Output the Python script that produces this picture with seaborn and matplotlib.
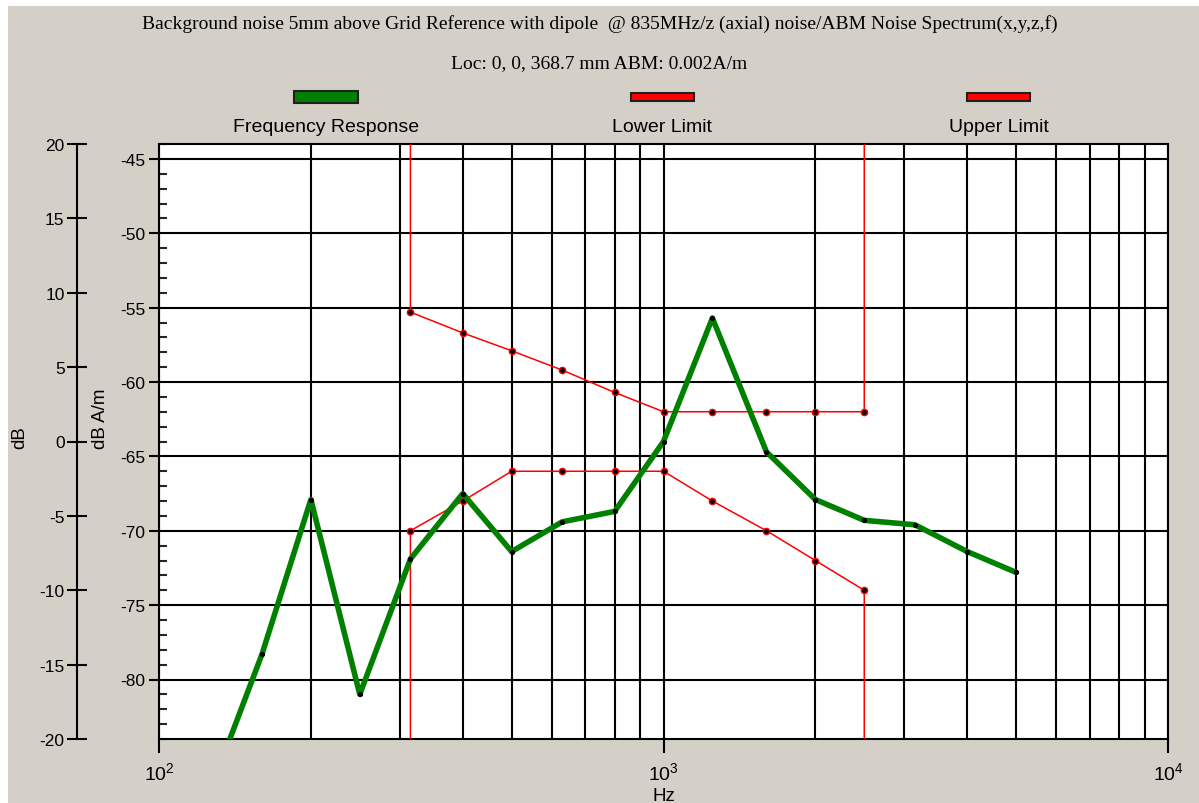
import seaborn as sns
import pandas as pd
import matplotlib.pyplot as plt
from matplotlib.patches import Rectangle
from matplotlib.ticker import MultipleLocator

# data (dB A/m)
resp_freq = [125, 160, 200, 250, 315, 400, 500, 630, 800, 1000, 1250, 1600,
             2000, 2500, 3150, 4000, 5000]
resp_level = [-87.9, -78.3, -67.9, -81.0, -71.9, -67.5, -71.4, -69.4, -68.7,
              -64.0, -55.7, -64.7, -67.9, -69.3, -69.6, -71.4, -72.8]

# limit curves, with the vertical edges running off the chart
lower_freq = [315, 315, 400, 500, 630, 800, 1000, 1250, 1600, 2000, 2500, 2500]
lower_level = [-100, -70.0, -68.0, -66.0, -66.0, -66.0, -66.0, -68.0, -70.0,
               -72.0, -74.0, -100]
upper_freq = [315, 315, 400, 500, 630, 800, 1000, 1250, 1600, 2000, 2500, 2500]
upper_level = [-30, -55.3, -56.7, -57.9, -59.2, -60.7, -62.0, -62.0, -62.0,
               -62.0, -62.0, -30]

db_offset = 64  # dB = dB A/m + 64

title1 = "Background noise 5mm above Grid Reference with dipole  @ 835MHz/z (axial) noise/ABM Noise Spectrum(x,y,z,f)"
title2 = "Loc: 0, 0, 368.7 mm ABM: 0.002A/m"
legend_names = ["Frequency Response", "Lower Limit", "Upper Limit"]

df_resp = pd.DataFrame({"freq": resp_freq, "level": resp_level})
df_lower = pd.DataFrame({"freq": lower_freq, "level": lower_level})
df_upper = pd.DataFrame({"freq": upper_freq, "level": upper_level})

sns.set_style("ticks")
plt.rcParams["font.family"] = ["Liberation Sans", "DejaVu Sans"]
plt.rcParams["mathtext.default"] = "regular"
plt.rcParams["axes.unicode_minus"] = False
plt.rcParams["text.color"] = "black"
plt.rcParams["axes.labelcolor"] = "black"

gray = "#D4D0C8"
fig = plt.figure(figsize=(11.99, 8.04), dpi=100, facecolor="white")
fig.add_artist(Rectangle((8 / 1199, 0), 1, 1 - 7 / 804, transform=fig.transFigure,
                         facecolor=gray, edgecolor="none", zorder=-10))

ax = fig.add_axes([159 / 1199, 64 / 804, 1009 / 1199, 595 / 804])
ax.set_facecolor("white")

for d in (df_lower, df_upper):
    sns.lineplot(data=d, x="freq", y="level", ax=ax, sort=False, estimator=None,
                 color="red", linewidth=1.1, marker="o", markersize=4.5,
                 markerfacecolor="black", markeredgecolor="red", markeredgewidth=1,
                 zorder=3)
sns.lineplot(data=df_resp, x="freq", y="level", ax=ax, sort=False, estimator=None,
             color="#008000", linewidth=4, marker="o", markersize=3,
             markerfacecolor="black", markeredgecolor="black", zorder=4)

ax.set_xscale("log")
ax.set_xlim(100, 10000)
ax.set_ylim(-84, -44)
ax.yaxis.set_major_locator(MultipleLocator(5))
ax.yaxis.set_minor_locator(MultipleLocator(1))
ax.grid(which="both", axis="x", color="black", linewidth=1.5)
ax.grid(which="major", axis="y", color="black", linewidth=1.5)
ax.set_axisbelow(True)
for s in ax.spines.values():
    s.set_color("black")
    s.set_linewidth(1.5)
ax.tick_params(axis="y", which="major", direction="out", length=7, width=1.5,
               labelsize=12.5, pad=3, colors="black")
ax.tick_params(axis="y", which="minor", direction="in", length=5.5, width=1.5)
ax.tick_params(axis="x", which="major", direction="out", length=10, width=1.5,
               labelsize=14, pad=6, colors="black")
ax.tick_params(axis="x", which="minor", length=0)
ax.set_xlabel("Hz", fontsize=13.5, labelpad=3)
ax.set_ylabel("dB A/m", fontsize=13.5)
ax.yaxis.set_label_coords(-0.050, 0.54)

# outer dB axis
ax_db = ax.twinx()
ax_db.set_ylim(-84 + db_offset, -44 + db_offset)
ax_db.yaxis.set_major_locator(MultipleLocator(5))
for k in ("right", "top", "bottom"):
    ax_db.spines[k].set_visible(False)
ax_db.spines["left"].set_visible(True)
ax_db.spines["left"].set_position(("outward", 59))
ax_db.spines["left"].set_linewidth(1.5)
ax_db.spines["left"].set_color("black")
ax_db.yaxis.set_ticks_position("left")
ax_db.yaxis.set_label_position("left")
ax_db.tick_params(axis="y", direction="inout", length=14, width=1.5,
                  labelsize=12.5, pad=2, colors="black")
ax_db.set_ylabel("dB", fontsize=13.5)
ax_db.yaxis.set_label_coords(-0.130, 0.509)

# titles
fig.text(0.5, 1 - 24 / 804, title1, ha="center", va="center", fontsize=14,
         family="Liberation Serif")
fig.text(0.5, 1 - 64 / 804, title2, ha="center", va="center", fontsize=14,
         family="Liberation Serif")

# legend: swatch above label
swatches = [("#008000", 294, 358, 12), ("red", 631, 694, 8), ("red", 967, 1030, 8)]
for (col, x0, x1, h), name in zip(swatches, legend_names):
    fig.add_artist(Rectangle((x0 / 1199, 1 - (98 + h / 2) / 804), (x1 - x0) / 1199, h / 804,
                             transform=fig.transFigure, facecolor=col,
                             edgecolor="#202020", linewidth=1.5))
    fig.text((x0 + x1) / 2 / 1199, 1 - 127 / 804, name, ha="center", va="center",
             fontsize=14)

plt.savefig("out.png", dpi=100, facecolor=fig.get_facecolor())
